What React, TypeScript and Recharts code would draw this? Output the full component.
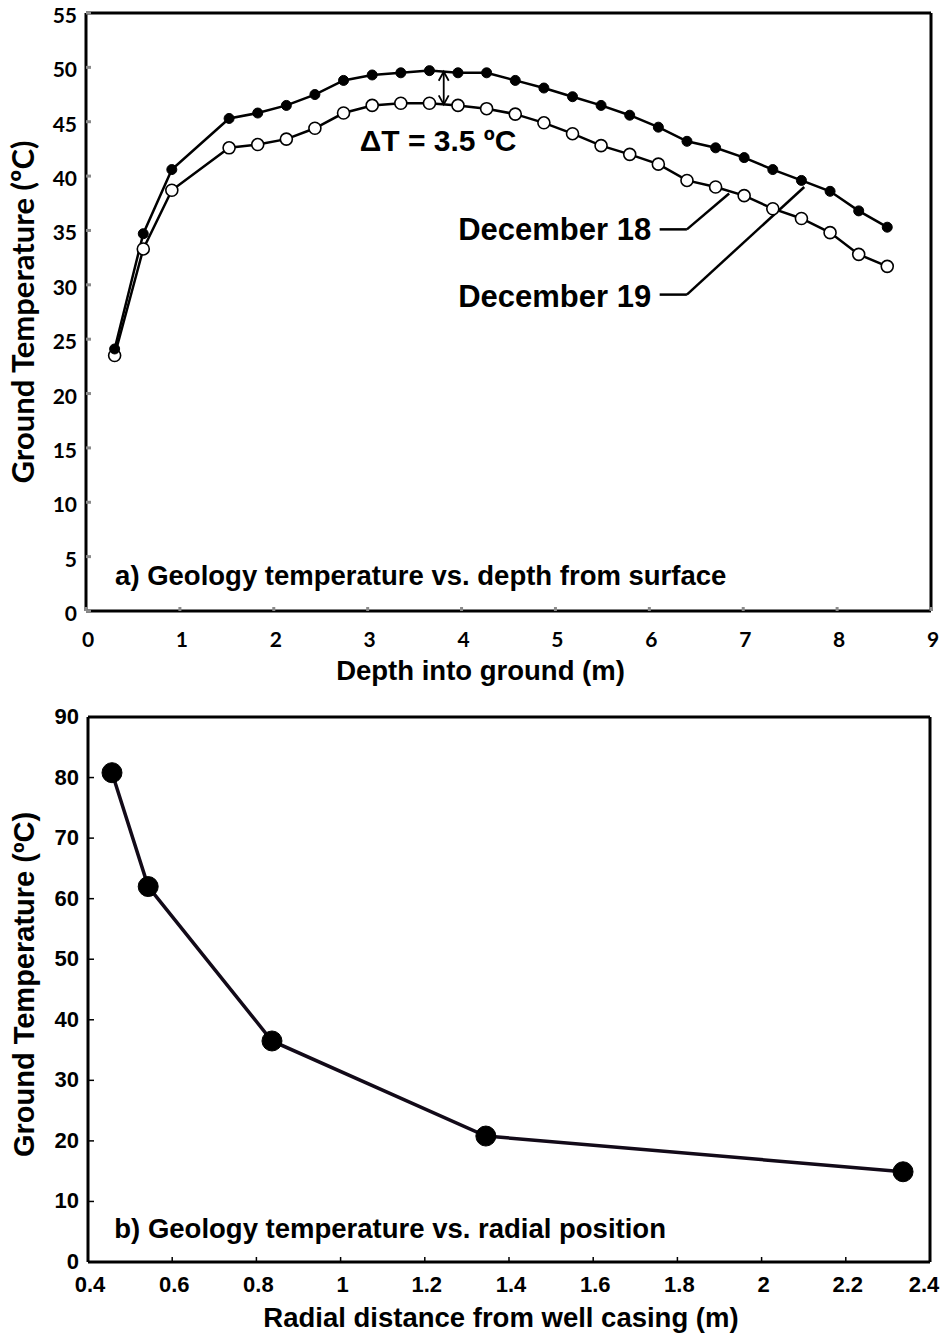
import React from 'react';
import {
  ComposedChart,
  Line,
  XAxis,
  YAxis,
  ReferenceLine,
  ReferenceDot,
} from 'recharts';

// Panel a: ground temperature profile with depth (measured every foot, plotted in metres)
const depthM = [
  0.305, 0.61, 0.914, 1.524, 1.829, 2.134, 2.438, 2.743, 3.048, 3.353, 3.658, 3.962, 4.267, 4.572,
  4.877, 5.182, 5.486, 5.791, 6.096, 6.401, 6.706, 7.01, 7.315, 7.62, 7.925, 8.23, 8.534,
];
const dec18 = [
  24.1, 34.7, 40.6, 45.3, 45.8, 46.5, 47.5, 48.8, 49.3, 49.5, 49.7, 49.5, 49.5, 48.8, 48.1, 47.3,
  46.5, 45.6, 44.5, 43.2, 42.6, 41.7, 40.6, 39.6, 38.6, 36.8, 35.3,
];
const dec19 = [
  23.5, 33.3, 38.7, 42.6, 42.9, 43.4, 44.4, 45.8, 46.5, 46.7, 46.7, 46.5, 46.2, 45.7, 44.9, 43.9,
  42.8, 42.0, 41.1, 39.6, 39.0, 38.2, 37.0, 36.1, 34.8, 32.8, 31.7,
];
const depthTicks = [0, 1, 2, 3, 4, 5, 6, 7, 8, 9];
const depthTempTicks = [0, 5, 10, 15, 20, 25, 30, 35, 40, 45, 50, 55];

// Panel b: ground temperature with radial distance from the well casing
const radialDist = [0.457, 0.543, 0.837, 1.345, 2.336];
const radialTemp = [80.8, 62.0, 36.5, 20.8, 14.9];
const radialTicks = [0.4, 0.6, 0.8, 1, 1.2, 1.4, 1.6, 1.8, 2, 2.2, 2.4];
const radialTempTicks = [0, 10, 20, 30, 40, 50, 60, 70, 80, 90];

const depthRows = depthM.map((d, i) => ({ depth: d, dec18: dec18[i], dec19: dec19[i] }));
const radialRows = radialDist.map((r, i) => ({ r, temp: radialTemp[i] }));

const ARIAL = "'Liberation Sans', Arial, sans-serif";
const CALIBRI = "Lato, 'Open Sans', sans-serif";
const PAGE_W = 943;

// ---- tick renderers (ticks point into the plot) ----
const TopXTick = (p: any) => (
  <g>
    <line x1={p.x} y1={p.y} x2={p.x} y2={p.y - 4} stroke="#8a8a8a" strokeWidth={3} />
    <text x={Math.min(p.x + 2, PAGE_W - 10)} y={p.y + 36} textAnchor="middle" fontFamily={CALIBRI} fontWeight={700} fontSize={21} fill="#000">
      {p.payload.value}
    </text>
  </g>
);
const TopYTick = (p: any) => (
  <g>
    <line x1={p.x} y1={p.y} x2={p.x + 5} y2={p.y} stroke="#8a8a8a" strokeWidth={3} />
    <text x={p.x - 9} y={p.y + 10} textAnchor="end" fontFamily={CALIBRI} fontWeight={700} fontSize={21} fill="#000">
      {p.payload.value}
    </text>
  </g>
);
const BottomXTick = (p: any) => (
  <g>
    <line x1={p.x} y1={p.y} x2={p.x} y2={p.y - 5} stroke="#000" strokeWidth={1.5} />
    <text x={Math.min(p.x + 2, PAGE_W - 19)} y={p.y + 30} textAnchor="middle" fontFamily={ARIAL} fontWeight={700} fontSize={22} fill="#000">
      {String(p.payload.value)}
    </text>
  </g>
);
const BottomYTick = (p: any) => (
  <g>
    <line x1={p.x} y1={p.y} x2={p.x + 6} y2={p.y} stroke="#000" strokeWidth={1.5} />
    <text x={p.x - 9} y={p.y + 7} textAnchor="end" fontFamily={ARIAL} fontWeight={700} fontSize={22} fill="#000">
      {p.payload.value}
    </text>
  </g>
);

// ---- axis titles ----
const xTitle = (text: string, dx: number, dy: number) => (props: any) => {
  const vb = props.viewBox;
  return (
    <text x={vb.x + vb.width / 2 + dx} y={vb.y + dy} textAnchor="middle" fontFamily={ARIAL} fontWeight={700} fontSize={27.5} fill="#000">
      {text}
    </text>
  );
};
const yTitle = (text: string, x: number, dy: number, font: string, size: number) => (props: any) => {
  const vb = props.viewBox;
  const cy = vb.y + vb.height / 2 + dy;
  return (
    <text x={x} y={cy} transform={`rotate(-90, ${x}, ${cy})`} textAnchor="middle" fontFamily={font} fontWeight={700} fontSize={size} fill="#000">
      {text}
    </text>
  );
};

// ---- annotation shapes ----
const textShape = (text: string, anchor: 'start' | 'end', size: number) => (p: any) => (
  <text x={p.cx} y={p.cy} textAnchor={anchor} fontFamily={ARIAL} fontWeight={700} fontSize={size} fill="#000">
    {text}
  </text>
);
const arrowHead = (up: boolean) => (p: any) => {
  const s = up ? 1 : -1;
  return (
    <path
      d={`M${p.cx - 5},${p.cy + 9 * s} L${p.cx},${p.cy} L${p.cx + 5},${p.cy + 9 * s}`}
      fill="none"
      stroke="#000"
      strokeWidth={1.8}
    />
  );
};

const leader = (pts: { x: number; y: number }[]) =>
  pts.slice(1).map((pt, i) => (
    <ReferenceLine key={`${pt.x}-${pt.y}`} segment={[pts[i], pt]} stroke="#000" strokeWidth={2.5} />
  ));

const dec18Leader = [
  { x: 6.11, y: 35.1 },
  { x: 6.4, y: 35.1 },
  { x: 6.85, y: 38.4 },
];
const dec19Leader = [
  { x: 6.11, y: 29.1 },
  { x: 6.4, y: 29.1 },
  { x: 7.65, y: 39.0 },
];

export default function App() {
  return (
    <div style={{ position: 'absolute', left: 0, top: 0, width: 943, height: 1337, background: '#fff' }}>
      <div style={{ position: 'absolute', left: 0, top: 0 }}>
        <ComposedChart width={943} height={690} data={depthRows} margin={{ top: 13, right: 12, left: 0, bottom: 39 }}>
          <XAxis
            type="number"
            dataKey="depth"
            domain={[0, 9]}
            ticks={depthTicks}
            interval={0}
            height={40}
            tickSize={0}
            tickMargin={0}
            tickLine={false}
            axisLine={{ stroke: '#000', strokeWidth: 3 }}
            tick={<TopXTick />}
            label={{ content: xTitle('Depth into ground (m)', -28, 69) }}
          />
          <YAxis
            type="number"
            domain={[0, 55]}
            ticks={depthTempTicks}
            interval={0}
            width={86}
            tickSize={0}
            tickMargin={0}
            tickLine={false}
            axisLine={{ stroke: '#000', strokeWidth: 3 }}
            tick={<TopYTick />}
            label={{ content: yTitle('Ground Temperature (ºC)', 34, 0, CALIBRI, 31) }}
          />
          <ReferenceLine y={55} stroke="#000" strokeWidth={3} />
          <ReferenceLine x={9} stroke="#000" strokeWidth={3} />
          <Line
            dataKey="dec19"
            stroke="#000"
            strokeWidth={2.5}
            isAnimationActive={false}
            dot={{ r: 6, fill: '#fff', stroke: '#000', strokeWidth: 1.6 }}
          />
          <Line
            dataKey="dec18"
            stroke="#000"
            strokeWidth={2.5}
            isAnimationActive={false}
            dot={{ r: 5, fill: '#000', stroke: '#000', strokeWidth: 1 }}
          />
          {leader(dec18Leader)}
          {leader(dec19Leader)}
          <ReferenceLine segment={[{ x: 3.81, y: 46.6 }, { x: 3.81, y: 49.6 }]} stroke="#000" strokeWidth={1.8} />
          <ReferenceDot x={3.81} y={49.6} shape={arrowHead(true)} />
          <ReferenceDot x={3.81} y={46.6} shape={arrowHead(false)} />
          <ReferenceDot x={2.915} y={42.3} shape={textShape('ΔT = 3.5 ºC', 'start', 30)} />
          <ReferenceDot x={6.02} y={34.1} shape={textShape('December 18', 'end', 31)} />
          <ReferenceDot x={6.02} y={28.0} shape={textShape('December 19', 'end', 31)} />
          <ReferenceDot x={0.31} y={2.4} shape={textShape('a) Geology temperature vs. depth from surface', 'start', 27.5)} />
        </ComposedChart>
      </div>
      <div style={{ position: 'absolute', left: 0, top: 690 }}>
        <ComposedChart width={943} height={647} data={radialRows} margin={{ top: 27, right: 13, left: 0, bottom: 35 }}>
          <XAxis
            type="number"
            dataKey="r"
            domain={[0.4, 2.4]}
            ticks={radialTicks}
            interval={0}
            height={40}
            tickSize={0}
            tickMargin={0}
            tickLine={false}
            axisLine={{ stroke: '#000', strokeWidth: 3 }}
            tick={<BottomXTick />}
            label={{ content: xTitle('Radial distance from well casing (m)', -8, 65) }}
          />
          <YAxis
            type="number"
            domain={[0, 90]}
            ticks={radialTempTicks}
            interval={0}
            width={88}
            tickSize={0}
            tickMargin={0}
            tickLine={false}
            axisLine={{ stroke: '#000', strokeWidth: 3 }}
            tick={<BottomYTick />}
            label={{ content: yTitle('Ground Temperature (ºC)', 34, -5, ARIAL, 29) }}
          />
          <ReferenceLine y={90} stroke="#000" strokeWidth={3} />
          <ReferenceLine x={2.4} stroke="#000" strokeWidth={3} />
          <Line
            dataKey="temp"
            stroke="#120a18"
            strokeWidth={3.5}
            isAnimationActive={false}
            dot={{ r: 10, fill: '#000', stroke: '#000', strokeWidth: 1 }}
          />
          <ReferenceDot x={0.4625} y={4.0} shape={textShape('b) Geology temperature vs. radial position', 'start', 27.5)} />
        </ComposedChart>
      </div>
    </div>
  );
}
